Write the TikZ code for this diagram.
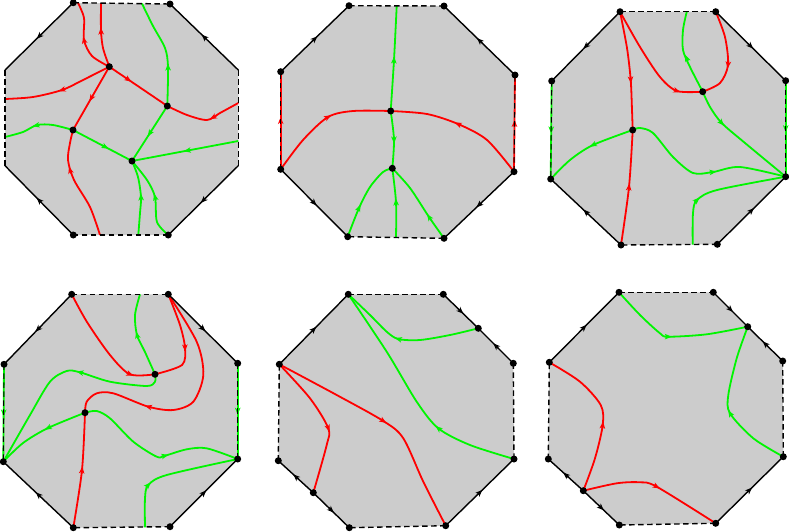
\documentclass[tikz,border=0pt]{standalone}
\usetikzlibrary{calc,arrows.meta}
\definecolor{octgray}{RGB}{204,204,204}
\definecolor{cred}{RGB}{255,0,0}
\definecolor{cgreen}{RGB}{0,245,0}
\tikzset{
  octfill/.style={fill=octgray,draw=none},
  sedge/.style={draw=black,line width=1.4pt},
  dedge/.style={draw=black,line width=1.4pt,dash pattern=on 5.5pt off 3.5pt},
  dedgethin/.style={draw=black,line width=1pt,dash pattern=on 5.5pt off 3.5pt},
  redc/.style={draw=cred,line width=1.8pt},
  grnc/.style={draw=cgreen,line width=1.8pt},
  vdot/.style={circle,fill=black,inner sep=0pt,minimum size=7pt},
  tiphead/.style={-{Stealth[length=7pt,width=5.5pt,inset=2pt]}},
}
% arrow head at #3, direction from #2 to #4
\newcommand\tipat[4]{\draw[#1,tiphead] ($#3!-3.5pt!($#3+#4-#2$)$) -- ($#3!3.5pt!($#3+#4-#2$)$);}
\begin{document}
\begin{tikzpicture}[x=1pt,y=-1pt]
\useasboundingbox (0,0) rectangle (789,531);
% ---------------- Octagon 1 ----------------
\coordinate (p1) at (73.3,2.7); \coordinate (p2) at (170,4);
\coordinate (p3) at (238.3,70); \coordinate (p4) at (238.3,165.7);
\coordinate (p5) at (168.3,235); \coordinate (p6) at (73.3,235);
\coordinate (p7) at (5,165.7); \coordinate (p8) at (5,70);
\coordinate (A) at (109.3,66.7); \coordinate (B) at (167.3,106);
\coordinate (C) at (73,130); \coordinate (D) at (132,161);
\coordinate (pa) at (78,2.8); \coordinate (pb) at (101,3.1);
\coordinate (pc) at (5,99); \coordinate (pd) at (238.3,103);
\coordinate (pe) at (100,235); \coordinate (pf) at (142,3.6);
\coordinate (pg) at (5,137); \coordinate (ph) at (238.3,141);
\coordinate (pi) at (138.3,235);
\fill[octfill] (p1)--(p2)--(p3)--(p4)--(p5)--(p6)--(p7)--(p8)--cycle;
\draw[redc] plot[smooth] coordinates {(A) (92,56) (84,40) (84,18) (pa)};
\tipat{redc}{(92,56)}{(84,40)}{(84,18)}
\draw[redc] plot[smooth] coordinates {(A) (103,48) (101,30) (pb)};
\tipat{redc}{(103,48)}{(101,31)}{(pb)}
\draw[redc] plot[smooth] coordinates {(A) (83,80) (62,90) (33,97) (pc)};
\tipat{redc}{(83,80)}{(62,90)}{(33,97)}
\draw[redc] (A) -- (B);
\tipat{redc}{(A)}{($(A)!0.33!(B)$)}{(B)}
\draw[redc] plot[smooth] coordinates {(pd) (220,113) (207,120) (187,115) (B)};
\tipat{redc}{(220,113)}{(213,117.5)}{(207,120)}
\draw[redc] (A) -- (C);
\tipat{redc}{(A)}{($(A)!0.5!(C)$)}{(C)}
\draw[redc] plot[smooth] coordinates {(pe) (90,207) (74,180) (68,160) (70,143) (C)};
\tipat{redc}{(74,180)}{(70,170)}{(68,160)}
\draw[grnc] plot[smooth] coordinates {(B) (168,67) (165,48) (153,26) (pf)};
\tipat{grnc}{(B)}{(168,67)}{(165,48)}
\draw[grnc] (B) -- (D);
\tipat{grnc}{(B)}{($(B)!0.5!(D)$)}{(D)}
\draw[grnc] plot[smooth] coordinates {(C) (53,125) (37,125) (23,132) (pg)};
\tipat{grnc}{(53,125)}{(36,125.5)}{(23,132)}
\draw[grnc] (C) -- (D);
\tipat{grnc}{(C)}{($(C)!0.55!(D)$)}{(D)}
\draw[grnc] (ph) -- (D);
\tipat{grnc}{(ph)}{($(ph)!0.48!(D)$)}{(D)}
\draw[grnc] plot[smooth] coordinates {(pi) (140,213) (141,197) (138,177) (D)};
\tipat{grnc}{(140,213)}{(141,197)}{(138,177)}
\draw[grnc] plot[smooth] coordinates {(p5) (157,222) (155,197) (147,180) (D)};
\tipat{grnc}{(157,222)}{(155,197)}{(147,180)}
\draw[dedge] (p1)--(p2); \draw[dedge] (p3)--(p4);
\draw[dedge] (p5)--(p6); \draw[dedge] (p7)--(p8);
\draw[sedge] (p1)--(p8); \tipat{sedge}{(p1)}{($(p1)!0.5!(p8)$)}{(p8)}
\draw[sedge] (p3)--(p2); \tipat{sedge}{(p3)}{($(p3)!0.5!(p2)$)}{(p2)}
\draw[sedge] (p4)--(p5); \tipat{sedge}{(p4)}{($(p4)!0.5!(p5)$)}{(p5)}
\draw[sedge] (p6)--(p7); \tipat{sedge}{(p6)}{($(p6)!0.5!(p7)$)}{(p7)}
\foreach \n in {p1,p2,p5,p6,A,B,C,D} \node[vdot] (dot-\n) at (\n) {};
% ---------------- Octagon 2 ----------------
\coordinate (q1) at (349,5.7); \coordinate (q2) at (444,6);
\coordinate (q3) at (515,75); \coordinate (q4) at (514,171.7);
\coordinate (q5) at (444,238.3); \coordinate (q6) at (347.7,236.7);
\coordinate (q7) at (280.7,169.3); \coordinate (q8) at (280.7,71.7);
\coordinate (E) at (390.7,111); \coordinate (F) at (392.3,168.3);
\coordinate (qa) at (396.7,6); \coordinate (qb) at (396,237.5);
\fill[octfill] (q1)--(q2)--(q3)--(q4)--(q5)--(q6)--(q7)--(q8)--cycle;
\draw[redc] plot[smooth] coordinates {(q7) (303,140) (328,117) (353,111) (E)};
\tipat{redc}{(303,140)}{(328,117)}{(353,111)}
\draw[redc] plot[smooth] coordinates {(q4) (487,140) (458,124) (427,114) (E)};
\tipat{redc}{(487,140)}{(458,124)}{(427,114)}
\draw[grnc] plot[smooth] coordinates {(E) (394,60) (qa)};
\tipat{grnc}{(E)}{(394,60)}{(qa)}
\draw[grnc] plot[smooth] coordinates {(E) (394,140) (F)};
\tipat{grnc}{(E)}{(394,140)}{(F)}
\draw[grnc] plot[smooth] coordinates {(q6) (359,208) (370,187) (383,172) (F)};
\tipat{grnc}{(q6)}{(359,208)}{(370,187)}
\draw[grnc] plot[smooth] coordinates {(qb) (396,202) (F)};
\tipat{grnc}{(qb)}{(396,202)}{(F)}
\draw[grnc] plot[smooth] coordinates {(q5) (429,217) (410,188) (F)};
\tipat{grnc}{(q5)}{(429,217)}{(410,188)}
\draw[dedge] (q1)--(q2); \draw[dedge] (q5)--(q6);
\draw[redc] (q7)--(q8); \tipat{redc}{(q7)}{($(q7)!0.5!(q8)$)}{(q8)} \draw[dedgethin] (q7)--(q8);
\draw[redc] (q4)--(q3); \tipat{redc}{(q4)}{($(q4)!0.5!(q3)$)}{(q3)} \draw[dedgethin] (q4)--(q3);
\draw[sedge] (q8)--(q1); \tipat{sedge}{(q8)}{($(q8)!0.5!(q1)$)}{(q1)}
\draw[sedge] (q3)--(q2); \tipat{sedge}{(q3)}{($(q3)!0.5!(q2)$)}{(q2)}
\draw[sedge] (q7)--(q6); \tipat{sedge}{(q7)}{($(q7)!0.5!(q6)$)}{(q6)}
\draw[sedge] (q4)--(q5); \tipat{sedge}{(q4)}{($(q4)!0.5!(q5)$)}{(q5)}
\foreach \n in {q1,q2,q3,q4,q5,q6,q7,q8,E,F} \node[vdot] (dot-\n) at (\n) {};
% ---------------- Octagon 3 ----------------
\coordinate (s1) at (620,11.7); \coordinate (s2) at (715.7,11.7);
\coordinate (s3) at (785.7,80.7); \coordinate (s4) at (785.7,176.7);
\coordinate (s5) at (717.3,244.3); \coordinate (s6) at (621,245);
\coordinate (s7) at (550.7,179); \coordinate (s8) at (551.7,81);
\coordinate (G) at (702.7,91.7); \coordinate (H) at (632.7,130);
\coordinate (sa) at (686.7,12); \coordinate (sb) at (692.7,244.6);
\fill[octfill] (s1)--(s2)--(s3)--(s4)--(s5)--(s6)--(s7)--(s8)--cycle;
\draw[redc] plot[smooth] coordinates {(s1) (627,48) (630.7,80) (632,110) (H)};
\tipat{redc}{(627,48)}{(630.7,80)}{(632,110)}
\draw[redc] plot[smooth] coordinates {(s1) (640,47) (660,77) (677,91) (G)};
\tipat{redc}{(660,77)}{(677,91)}{(G)}
\draw[redc] plot[smooth] coordinates {(s2) (725,37) (728,65) (720,83) (G)};
\tipat{redc}{(725,37)}{(728,65)}{(720,83)}
\draw[redc] plot[smooth] coordinates {(s6) (629,187) (H)};
\tipat{redc}{(s6)}{(629,187)}{(H)}
\draw[grnc] plot[smooth] coordinates {(G) (690,67) (683,50) (683,30) (sa)};
\tipat{grnc}{(690,67)}{(686.5,58)}{(683,50)}
\draw[grnc] plot[smooth] coordinates {(G) (710,107) (721.7,123) (745,143) (s4)};
\tipat{grnc}{(710,107)}{(721.7,123)}{(745,143)}
\draw[grnc] plot[smooth] coordinates {(H) (593,145) (570,160) (s7)};
\tipat{grnc}{(H)}{(593,145)}{(570,160)}
\draw[grnc] plot[smooth] coordinates {(H) (640,128) (653,133) (673,157) (693,173) (713,172) (740,167) (s4)};
\tipat{grnc}{(693,173)}{(713,172)}{(740,167)}
\draw[grnc] plot[smooth] coordinates {(sb) (693,213) (697,200) (717,190) (s4)};
\tipat{grnc}{(693,213)}{(697,200)}{(717,190)}
\draw[dedge] (s1)--(s2); \draw[dedge] (s5)--(s6);
\draw[grnc] (s8)--(s7); \tipat{grnc}{(s8)}{($(s8)!0.5!(s7)$)}{(s7)} \draw[dedgethin] (s8)--(s7);
\draw[grnc] (s3)--(s4); \tipat{grnc}{(s3)}{($(s3)!0.5!(s4)$)}{(s4)} \draw[dedgethin] (s3)--(s4);
\draw[sedge] (s1)--(s8); \tipat{sedge}{(s1)}{($(s1)!0.5!(s8)$)}{(s8)}
\draw[sedge] (s2)--(s3); \tipat{sedge}{(s2)}{($(s2)!0.5!(s3)$)}{(s3)}
\draw[sedge] (s5)--(s4); \tipat{sedge}{(s5)}{($(s5)!0.5!(s4)$)}{(s4)}
\draw[sedge] (s6)--(s7); \tipat{sedge}{(s6)}{($(s6)!0.5!(s7)$)}{(s7)}
\foreach \n in {s1,s2,s3,s4,s5,s6,s7,s8,G,H} \node[vdot] (dot-\n) at (\n) {};
% ---------------- Octagon 4 ----------------
\coordinate (u1) at (71.7,294.3); \coordinate (u2) at (168.3,294.3);
\coordinate (u3) at (237.7,363.3); \coordinate (u4) at (237.7,459);
\coordinate (u5) at (170,526.7); \coordinate (u6) at (73.3,527.7);
\coordinate (u7) at (3.3,461.7); \coordinate (u8) at (4,364.3);
\coordinate (I) at (155,374.3); \coordinate (J) at (85,412.7);
\coordinate (ua) at (140,294.3); \coordinate (ub) at (145,527.3);
\fill[octfill] (u1)--(u2)--(u3)--(u4)--(u5)--(u6)--(u7)--(u8)--cycle;
\draw[redc] plot[smooth] coordinates {(u1) (87,322) (110,355) (130,374.3) (I)};
\tipat{redc}{(110,355)}{(130,374.3)}{(I)}
\draw[redc] plot[smooth] coordinates {(u2) (180,325) (185,348) (182,365) (I)};
\tipat{redc}{(180,325)}{(185,348)}{(182,365)}
\draw[redc] plot[smooth] coordinates {(u2) (196.7,341.7) (203.3,375) (193.3,401.7) (173.3,410) (148.3,406.7) (113.3,393.3) (96.7,393.3) (86.7,401.7) (J)};
\tipat{redc}{(173.3,410)}{(148.3,406.7)}{(113.3,393.3)}
\draw[redc] plot[smooth] coordinates {(u6) (82,470) (J)};
\tipat{redc}{(u6)}{(82,470)}{(J)}
\draw[grnc] plot[smooth] coordinates {(I) (145,352) (137,335) (135,315) (ua)};
\tipat{grnc}{(145,352)}{(137,335)}{(135,315)}
\draw[grnc] plot[smooth] coordinates {(I) (155,381.7) (146.7,386) (110,381.7) (80,372.3) (66.7,371) (50,381.7) (30,415) (u7)};
\tipat{grnc}{(110,381.7)}{(80,372.3)}{(66.7,371)}
\draw[grnc] plot[smooth] coordinates {(J) (48,428) (23,443) (u7)};
\tipat{grnc}{(J)}{(48,428)}{(23,443)}
\draw[grnc] plot[smooth] coordinates {(J) (96.7,411) (110,418.3) (133.3,441.7) (156.7,456.7) (165,455.7) (186.7,449.3) (206.7,448.3) (u4)};
\tipat{grnc}{(156.7,456.7)}{(165,455.7)}{(186.7,449.3)}
\draw[grnc] plot[smooth] coordinates {(ub) (145,498.3) (148.3,485) (166.7,475) (u4)};
\tipat{grnc}{(145,498.3)}{(148.3,485)}{(166.7,475)}
\draw[dedge] (u1)--(u2); \draw[dedge] (u5)--(u6);
\draw[grnc] (u8)--(u7); \tipat{grnc}{(u8)}{($(u8)!0.5!(u7)$)}{(u7)} \draw[dedgethin] (u8)--(u7);
\draw[grnc] (u3)--(u4); \tipat{grnc}{(u3)}{($(u3)!0.5!(u4)$)}{(u4)} \draw[dedgethin] (u3)--(u4);
\draw[sedge] (u1)--(u8); \tipat{sedge}{(u1)}{($(u1)!0.5!(u8)$)}{(u8)}
\draw[sedge] (u2)--(u3); \tipat{sedge}{(u2)}{($(u2)!0.5!(u3)$)}{(u3)}
\draw[sedge] (u5)--(u4); \tipat{sedge}{(u5)}{($(u5)!0.5!(u4)$)}{(u4)}
\draw[sedge] (u6)--(u7); \tipat{sedge}{(u6)}{($(u6)!0.5!(u7)$)}{(u7)}
\foreach \n in {u1,u2,u3,u4,u5,u6,u7,u8,I,J} \node[vdot] (dot-\n) at (\n) {};
% ---------------- Octagon 5 ----------------
\coordinate (v1) at (348.3,294.3); \coordinate (v2) at (443.3,294.3);
\coordinate (vm1) at (478.3,328.3); \coordinate (v3) at (513.3,363.3);
\coordinate (v4) at (514,459); \coordinate (v5) at (445.7,525.7);
\coordinate (v6) at (349.3,527.7); \coordinate (vm2) at (313.3,492.7);
\coordinate (v7) at (278.3,460.7); \coordinate (v8) at (279.3,364.3);
\fill[octfill] (v1)--(v2)--(v3)--(v4)--(v5)--(v6)--(v7)--(v8)--cycle;
\draw[grnc] plot[smooth] coordinates {(vm1) (450,335) (420,340) (398.3,339) (386.7,331.7) (370,315) (v1)};
\tipat{grnc}{(420,340)}{(398.3,339)}{(386.7,331.7)}
\draw[grnc] plot[smooth] coordinates {(v4) (470,445) (438.3,428.3) (416.7,401.7) (386.7,351.7) (v1)};
\tipat{grnc}{(470,445)}{(438.3,428.3)}{(416.7,401.7)}
\draw[redc] plot[smooth] coordinates {(v8) (336.7,395) (383.3,421) (403.3,438.3) (423.3,481.7) (v5)};
\tipat{redc}{(336.7,395)}{(383.3,421)}{(403.3,438.3)}
\draw[redc] plot[smooth] coordinates {(v8) (310,398.3) (328.3,428.3) (326.7,445) (vm2)};
\tipat{redc}{(310,398.3)}{(328.3,428.3)}{(326.7,445)}
\draw[dedge] (v1)--(v2); \draw[dedge] (v3)--(v4);
\draw[dedge] (v5)--(v6); \draw[dedge] (v7)--(v8);
\draw[sedge] (v2)--(vm1); \tipat{sedge}{(v2)}{($(v2)!0.5!(vm1)$)}{(vm1)}
\draw[sedge] (v3)--(vm1); \tipat{sedge}{(v3)}{($(v3)!0.5!(vm1)$)}{(vm1)}
\draw[sedge] (v5)--(v4); \tipat{sedge}{(v5)}{($(v5)!0.5!(v4)$)}{(v4)}
\draw[sedge] (vm2)--(v6); \tipat{sedge}{(vm2)}{($(vm2)!0.5!(v6)$)}{(v6)}
\draw[sedge] (vm2)--(v7); \tipat{sedge}{(vm2)}{($(vm2)!0.5!(v7)$)}{(v7)}
\draw[sedge] (v8)--(v1); \tipat{sedge}{(v8)}{($(v8)!0.5!(v1)$)}{(v1)}
\foreach \n in {v1,v2,vm1,v3,v4,v5,v6,vm2,v7,v8} \node[vdot] (dot-\n) at (\n) {};
% ---------------- Octagon 6 ----------------
\coordinate (w1) at (619,292.3); \coordinate (w2) at (713.3,292.3);
\coordinate (wm1) at (747.7,326.7); \coordinate (w3) at (782.7,361);
\coordinate (w4) at (783.3,456.7); \coordinate (w5) at (715.7,523.3);
\coordinate (w6) at (619.3,525); \coordinate (wm2) at (583.3,490.7);
\coordinate (w7) at (548.3,459); \coordinate (w8) at (549.3,362.3);
\fill[octfill] (w1)--(w2)--(w3)--(w4)--(w5)--(w6)--(w7)--(w8)--cycle;
\draw[grnc] plot[smooth] coordinates {(w1) (640,315) (660,333.3) (668.3,336.7) (706.7,334.3) (wm1)};
\tipat{grnc}{(660,333.3)}{(668.3,336.7)}{(706.7,334.3)}
\draw[grnc] plot[smooth] coordinates {(w4) (753.3,438.3) (730,413.3) (728.3,395) (736.7,358.3) (wm1)};
\tipat{grnc}{(753.3,438.3)}{(730,413.3)}{(728.3,395)}
\draw[redc] plot[smooth] coordinates {(wm2) (595,458.3) (602.7,425) (600.7,405) (580,381.7) (w8)};
\tipat{redc}{(595,458.3)}{(602.7,425)}{(600.7,405)}
\draw[redc] plot[smooth] coordinates {(wm2) (616.7,483.3) (640,482.3) (656.7,486.7) (w5)};
\tipat{redc}{(640,482.3)}{(656.7,486.7)}{(w5)}
\draw[dedge] (w1)--(w2); \draw[dedge] (w3)--(w4);
\draw[dedge] (w5)--(w6); \draw[dedge] (w7)--(w8);
\draw[sedge] (w2)--(wm1); \tipat{sedge}{(w2)}{($(w2)!0.5!(wm1)$)}{(wm1)}
\draw[sedge] (w3)--(wm1); \tipat{sedge}{(w3)}{($(w3)!0.5!(wm1)$)}{(wm1)}
\draw[sedge] (w5)--(w4); \tipat{sedge}{(w5)}{($(w5)!0.5!(w4)$)}{(w4)}
\draw[sedge] (wm2)--(w6); \tipat{sedge}{(wm2)}{($(wm2)!0.5!(w6)$)}{(w6)}
\draw[sedge] (wm2)--(w7); \tipat{sedge}{(wm2)}{($(wm2)!0.5!(w7)$)}{(w7)}
\draw[sedge] (w8)--(w1); \tipat{sedge}{(w8)}{($(w8)!0.5!(w1)$)}{(w1)}
\foreach \n in {w1,w2,wm1,w3,w4,w5,w6,wm2,w7,w8} \node[vdot] (dot-\n) at (\n) {};
\end{tikzpicture}
\end{document}
